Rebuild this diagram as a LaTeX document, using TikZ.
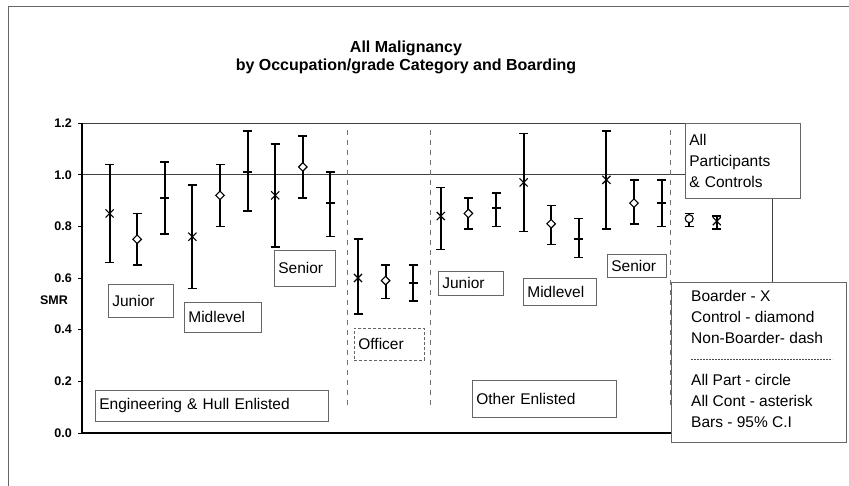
\documentclass[tikz,border=0pt]{standalone}
\usepackage{fontspec}
\setmainfont{Liberation Sans}
\usetikzlibrary{shapes.geometric,shapes.misc}

\begin{document}
\begin{tikzpicture}[
    x=1pt, y=-1pt,
    lbl/.style={rectangle, draw=black!60, fill=white, line width=0.7pt, align=left, inner xsep=4pt, inner ysep=0pt, anchor=north west, font=\fontsize{15.5}{21}\selectfont},
    keytext/.style={align=left, inner sep=0pt, anchor=west, font=\fontsize{15.5}{21}\selectfont},
    ttl/.style={align=center, font=\bfseries\fontsize{16}{18}\selectfont},
    tick/.style={anchor=east, inner sep=0pt, font=\bfseries\fontsize{12.5}{14}\selectfont},
    errbar/.style={line width=2pt},
    errcap/.style={line width=1.6pt},
    boarder/.style={cross out, draw, line width=1.1pt, minimum size=7pt, inner sep=0pt},
    control/.style={diamond, draw, line width=1.1pt, fill=white, minimum size=9pt, inner sep=0pt},
    nonboarder/.style={rectangle, fill=black, minimum width=9pt, minimum height=1.8pt, inner sep=0pt},
    allpart/.style={circle, draw, line width=1.1pt, fill=white, minimum size=8pt, inner sep=0pt},
    allcont/.style={boarder, label={[rectangle, fill=black, minimum width=1pt, minimum height=8pt, inner sep=0pt]center:}},
    divider/.style={dash pattern=on 5pt off 5pt, draw=black!55, line width=0.8pt}
  ]
    \useasboundingbox (0,0) rectangle (849,486);

    % outer frame and title
    \draw[black!60, line width=0.7pt] (849,6) -- (8,6) -- (8,486);
    \node[ttl] (title) at (406,57) {All Malignancy\\by Occupation/grade Category and Boarding};

    % plot area in SMR units
    \begin{scope}[shift={(82,433)}, x=27.6pt, y=258.3pt]
      \draw[black!75, line width=0.8pt] (0,1.2) -- (25,1.2) -- (25,0);
      \draw[black!75, line width=0.8pt] (0,1) -- (25,1);
      \draw[line width=1.2pt] (0,1.2) -- (0,0) -- (25,0);
      \foreach \v [count=\i] in {0.0,0.2,0.4,0.6,0.8,1.0,1.2} {
        \draw[line width=1pt] (0,\v) -- ++(-4pt,0);
        \node[tick] (tk\i) at ([xshift=-10pt]0,\v) {\v};
      }
      \foreach \k/\lo/\m/\hi/\t in {
          1/0.66/0.85/1.04/boarder, 2/0.65/0.75/0.85/control, 3/0.77/0.91/1.05/nonboarder,
          4/0.56/0.76/0.96/boarder, 5/0.80/0.92/1.04/control, 6/0.86/1.01/1.17/nonboarder,
          7/0.72/0.92/1.12/boarder, 8/0.91/1.03/1.15/control, 9/0.76/0.89/1.01/nonboarder,
          10/0.46/0.60/0.75/boarder, 11/0.52/0.59/0.65/control, 12/0.51/0.58/0.65/nonboarder,
          13/0.71/0.84/0.95/boarder, 14/0.79/0.85/0.91/control, 15/0.80/0.87/0.93/nonboarder,
          16/0.78/0.97/1.16/boarder, 17/0.73/0.81/0.88/control, 18/0.68/0.75/0.83/nonboarder,
          19/0.79/0.98/1.17/boarder, 20/0.81/0.89/0.98/control, 21/0.80/0.89/0.98/nonboarder,
          22/0.80/0.83/0.85/allpart, 23/0.79/0.82/0.84/allcont} {
        \draw[errbar] (\k,\lo) -- (\k,\hi);
        \draw[errcap] ([xshift=-4.5pt]\k,\lo) -- ([xshift=4.5pt]\k,\lo);
        \draw[errcap] ([xshift=-4.5pt]\k,\hi) -- ([xshift=4.5pt]\k,\hi);
        \node[\t] (p\k) at (\k,\m) {};
      }
    \end{scope}
    \node[tick, anchor=center] (smr) at (54,300) {SMR};

    % group dividers
    \draw[divider] (347,130) -- (347,405);
    \draw[divider] (430,130) -- (430,405);
    \draw[divider] (670,130) -- (670,405);

    % group labels
    \node[lbl, text width=57pt, minimum height=33pt] (jun1) at (108,284) {Junior};
    \node[lbl, text width=69pt, minimum height=30pt] (mid1) at (184,302) {Midlevel};
    \node[lbl, text width=53pt, minimum height=36pt] (sen1) at (274,250) {Senior};
    \node[lbl, text width=62pt, minimum height=32pt, densely dashed] (off) at (354,328) {Officer};
    \node[lbl, text width=225pt, minimum height=31pt] (eng) at (95,390) {Engineering \& Hull Enlisted};
    \node[lbl, text width=136pt, minimum height=37pt] (oth) at (472,380) {Other Enlisted};
    \node[lbl, text width=57pt, minimum height=24pt] (jun2) at (438,271) {Junior};
    \node[lbl, text width=65pt, minimum height=27pt] (mid2) at (523,278) {Midlevel};
    \node[lbl, text width=51pt, minimum height=23pt] (sen2) at (607,254) {Senior};
    \node[lbl, text width=107pt, minimum height=75pt] (all) at (685,123) {All\\Participants\\\& Controls};

    % key
    \node[lbl, minimum width=175pt, minimum height=160pt] (key) at (671,282) {};
    \node[keytext] (keytxt) at ([xshift=20pt, yshift=3pt]key.west)
      {Boarder - X\\Control - diamond\\Non-Boarder- dash\\\mbox{}\\All Part - circle\\All Cont - asterisk\\Bars - 95\% C.I};
    \draw[black!70, line width=1pt, dash pattern=on 2pt off 1pt] (keytxt.west) -- ++(141pt,0);
\end{tikzpicture}
\end{document}
